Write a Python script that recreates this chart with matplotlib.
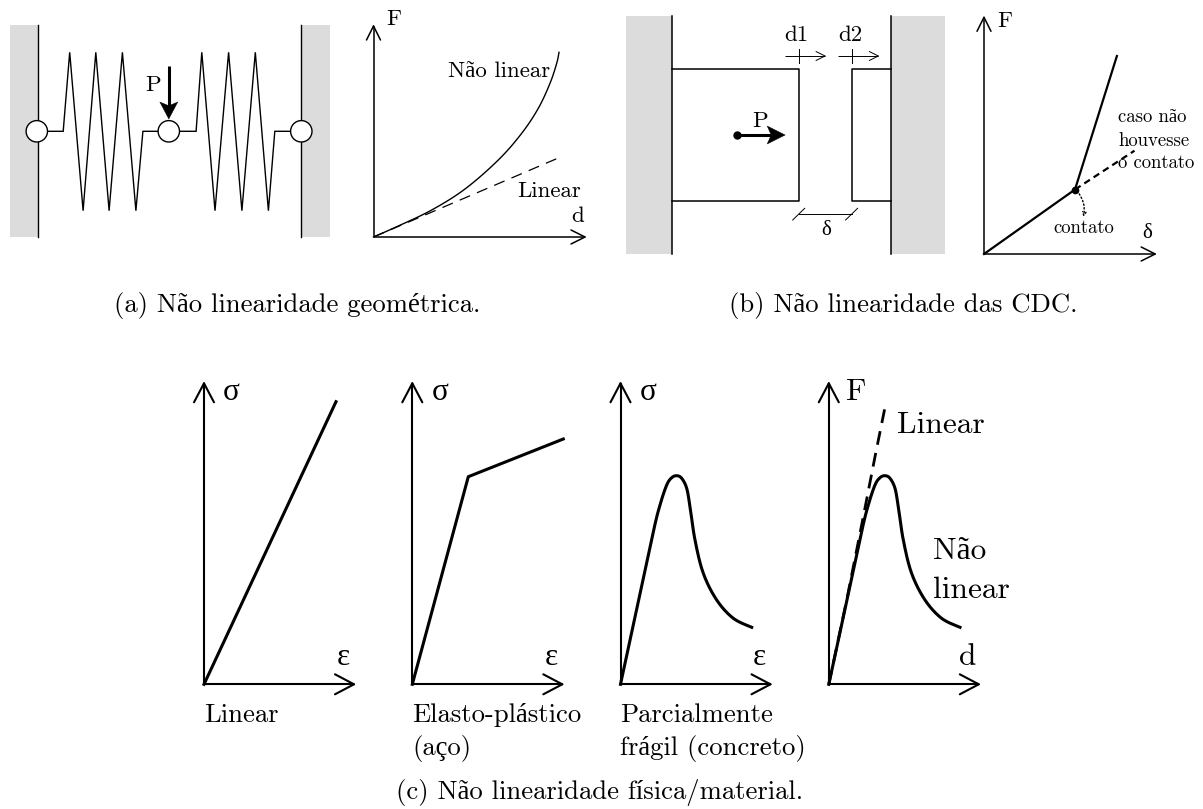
import matplotlib
matplotlib.use("Agg")
import matplotlib.pyplot as plt
import matplotlib.patches as patches
import numpy as np

plt.rcParams['font.family'] = ['cmr10', 'Liberation Serif', 'DejaVu Serif']

# everything below is in picture pixels
spring_left_x = [47.5, 63.2, 69.7, 83.1, 95.8, 109.1, 122.4, 135.9, 142.9, 158.3]
spring_right_x = [180, 196.1, 201.8, 215, 228.6, 241.9, 255.3, 268.4, 274.8, 291]
spring_y = [131.3, 131.3, 52.3, 210.7, 52.3, 210.7, 52.3, 210.7, 131.3, 131.3]
node_x = [36.8, 168.8, 301.3]

a_curve_x = [373.5, 398.3, 431.7, 465, 498.3, 521.7, 538.3, 550, 556.7, 559]
a_curve_y = [237, 226, 210, 189, 160, 133.3, 108.3, 83.3, 63.3, 52.3]
a_linear_x = [373.5, 558.3]
a_linear_y = [237, 158]

b_line_x = [984, 1075, 1116.9]
b_line_y = [254, 189.5, 56]
b_dash_x = [1075, 1134.5]
b_dash_y = [189.5, 150.7]

c_linear_x = [204, 336]
c_linear_y = [684.3, 401.7]
c_plastic_x = [412.3, 468.3, 563.3]
c_plastic_y = [684.3, 476.7, 439]
c_fragile_x = [620.5, 636.9, 653.3, 660, 666.7, 671.7, 676.7, 681.7, 686.7, 690, 695,
               703.3, 716.7, 733.3, 751.7]
c_fragile_y = [684.3, 608, 531.7, 505, 485, 477.7, 475.7, 478.3, 488.3, 506.7, 540,
               573.3, 600, 618.3, 627.3]
c_force_x = [x + 208.3 for x in c_fragile_x]
c_force_y = c_fragile_y
c_dash_x = [828.8, 846.7, 863.3, 875, 885]
c_dash_y = [684.3, 600, 516.7, 456.7, 407.3]

fig = plt.figure(figsize=(12.03, 8.09), dpi=100)
ax = fig.add_axes([0, 0, 1, 1])
ax.set_xlim(0, 1203)
ax.set_ylim(809, 0)
ax.axis('off')

GREY = "#dcdcdc"


def smooth(xs, ys, n=12):
    # catmull-rom through the read points, only to round the corners
    p = np.column_stack([xs, ys])
    p = np.vstack([p[0], p, p[-1]])
    out = []
    for i in range(1, len(p) - 2):
        for t in np.linspace(0, 1, n, endpoint=False):
            out.append(0.5 * (2 * p[i] + (p[i + 1] - p[i - 1]) * t
                              + (2 * p[i - 1] - 5 * p[i] + 4 * p[i + 1] - p[i + 2]) * t ** 2
                              + (3 * p[i] - p[i - 1] - 3 * p[i + 1] + p[i + 2]) * t ** 3))
    out.append(p[-2])
    out = np.array(out)
    return out[:, 0], out[:, 1]


def open_arrow(x0, y0, x1, y1, lw, head, half):
    ax.plot([x0, x1], [y0, y1], color="k", lw=lw, solid_capstyle="butt", zorder=3)
    d = np.array([x1 - x0, y1 - y0], float)
    d /= np.hypot(*d)
    n = np.array([-d[1], d[0]])
    tip = np.array([x1, y1])
    for s in (-1, 1):
        q = tip - d * head + s * n * half
        ax.plot([q[0], tip[0]], [q[1], tip[1]], color="k", lw=lw, solid_capstyle="round", zorder=3)


def solid_arrow(x0, y0, x1, y1, lw, head, half):
    d = np.array([x1 - x0, y1 - y0], float)
    d /= np.hypot(*d)
    n = np.array([-d[1], d[0]])
    tip = np.array([x1, y1])
    base = tip - d * head
    ax.plot([x0, base[0] + d[0] * 4], [y0, base[1] + d[1] * 4], color="k", lw=lw, solid_capstyle="butt", zorder=4)
    pts = [tip, base + n * half, tip - d * head * 0.78, base - n * half]
    ax.add_patch(patches.Polygon(pts, closed=True, fc="k", ec="k", lw=0.3, zorder=4))


def label(x, y, s, size, ha="center"):
    ax.text(x, y, s, fontsize=size, ha=ha, va="center", color="k", zorder=6)


# panel a
ax.add_patch(patches.Rectangle((9.6, 25), 28.2, 212, fc=GREY, ec="none"))
ax.add_patch(patches.Rectangle((301.3, 25), 28.7, 212, fc=GREY, ec="none"))
ax.plot([37.8, 37.8], [25, 237], color="k", lw=1.0)
ax.plot([301.3, 301.3], [25, 237], color="k", lw=1.0)
ax.plot(spring_left_x, spring_y, color="k", lw=1.0, solid_joinstyle="miter")
ax.plot(spring_right_x, spring_y, color="k", lw=1.0, solid_joinstyle="miter")
for x in node_x:
    ax.add_patch(patches.Circle((x, 131.3), 10.7, fc="white", ec="k", lw=1.0, zorder=3))
solid_arrow(168.8, 65.7, 168.8, 119, 2.2, 17, 9)
label(153.3, 85, "P", 16.5)
open_arrow(373.5, 237, 373.5, 26, 1.1, 14, 7)
open_arrow(373.5, 237, 585, 237, 1.1, 14, 7)
cx, cy = smooth(a_curve_x, a_curve_y)
ax.plot(cx, cy, color="k", lw=1.0)
ax.plot(a_linear_x, a_linear_y, color="k", lw=0.9, dashes=(9, 6))
label(394.2, 19, "F", 16.5)
label(577.3, 216.7, "d", 16.5)
label(498.8, 71.5, "Não linear", 16.5)
label(549.5, 191.7, "Linear", 16.5)
label(296.7, 305, "(a) Não linearidade geométrica.", 19.2)

# panel b
ax.add_patch(patches.Rectangle((625.9, 15.7), 45.8, 238.6, fc=GREY, ec="none"))
ax.add_patch(patches.Rectangle((891.4, 15.7), 54, 238.6, fc=GREY, ec="none"))
ax.plot([671.7, 671.7], [15.7, 254.3], color="k", lw=1.1)
ax.plot([891.4, 891.4], [15.7, 254.3], color="k", lw=1.1)
ax.plot([671.7, 798.7, 798.7, 671.7], [69, 69, 201, 201], color="k", lw=1.1)
ax.plot([891.4, 851.6, 851.6, 891.4], [69, 69, 201, 201], color="k", lw=1.1)
for x0, x1, xt in [(785.2, 825, 798.7), (838, 878.3, 851.6)]:
    open_arrow(x0, 56, x1, 56, 0.7, 9, 4.5)
    ax.plot([xt, xt], [49.3, 62.7], color="k", lw=0.7)
label(796.1, 35.7, "d1", 16.5)
label(849.9, 35.7, "d2", 16.5)
ax.plot([737.4], [135], "o", color="k", ms=5, zorder=4)
solid_arrow(737.4, 135, 785.2, 135, 2.2, 18, 9)
label(759.7, 121.7, "P", 16.5)
ax.plot([798.7, 851.6], [214.3, 214.3], color="k", lw=0.7)
for x in [798.7, 851.6]:
    ax.plot([x - 6, x + 6], [220, 208.3], color="k", lw=0.7)
label(826, 230, "δ", 15)
open_arrow(984, 254, 984, 17.3, 1.1, 14, 7)
open_arrow(984, 254, 1155.2, 254, 1.1, 14, 7)
ax.plot(b_line_x, b_line_y, color="k", lw=1.6)
ax.plot(b_dash_x, b_dash_y, color="k", lw=1.6, dashes=(3, 2))
ax.plot([1075], [189.5], "o", color="k", ms=4.5, zorder=4)
ax.annotate("", xy=(1083.3, 216.7), xytext=(1077, 191),
            arrowprops=dict(arrowstyle="->", lw=1.0, ls=":", connectionstyle="arc3,rad=-0.25",
                            mutation_scale=6, shrinkA=0, shrinkB=0))
label(1004.6, 21.7, "F", 16.5)
label(1147, 233, "δ", 15)
label(1118.3, 117.5, "caso não", 13.5, ha="left")
label(1118.3, 140.7, "houvesse", 13.5, ha="left")
label(1118.3, 163, "o contato", 13.5, ha="left")
label(1083.5, 227.7, "contato", 13.5)
label(903.6, 305, "(b) Não linearidade das CDC.", 19.2)

# panel c
for x0, ylab, xlab in [(204, "σ", "ε"), (412.3, "σ", "ε"), (620.5, "σ", "ε"), (828.8, "F", "d")]:
    open_arrow(x0, 684.3, x0, 383.3, 1.5, 19, 10)
    open_arrow(x0, 684.3, x0 + 150, 684.3, 1.5, 19, 10)
    label(x0 + 27.5, 392.5, ylab, 22.5)
    label(x0 + 139, 657.5, xlab, 22.5)
ax.plot(c_linear_x, c_linear_y, color="k", lw=2.2)
ax.plot(c_plastic_x, c_plastic_y, color="k", lw=2.2)
cx, cy = smooth(c_fragile_x, c_fragile_y)
ax.plot(cx, cy, color="k", lw=2.2)
cx, cy = smooth(c_force_x, c_force_y)
ax.plot(cx, cy, color="k", lw=2.2)
ax.plot(c_dash_x, c_dash_y, color="k", lw=2.0, dashes=(5, 3))
label(204, 715, "Linear", 19.2, ha="left")
label(412, 715, "Elasto-plástico", 19.2, ha="left")
label(412, 749, "(aço)", 19.2, ha="left")
label(620, 715, "Parcialmente", 19.2, ha="left")
label(620, 749, "frágil (concreto)", 19.2, ha="left")
label(896.7, 425.7, "Linear", 22.6, ha="left")
label(932.7, 551, "Não", 22.6, ha="left")
label(932.7, 590.7, "linear", 22.6, ha="left")
label(600, 793, "(c) Não linearidade física/material.", 19.2)

fig.savefig("out.png", dpi=100)
